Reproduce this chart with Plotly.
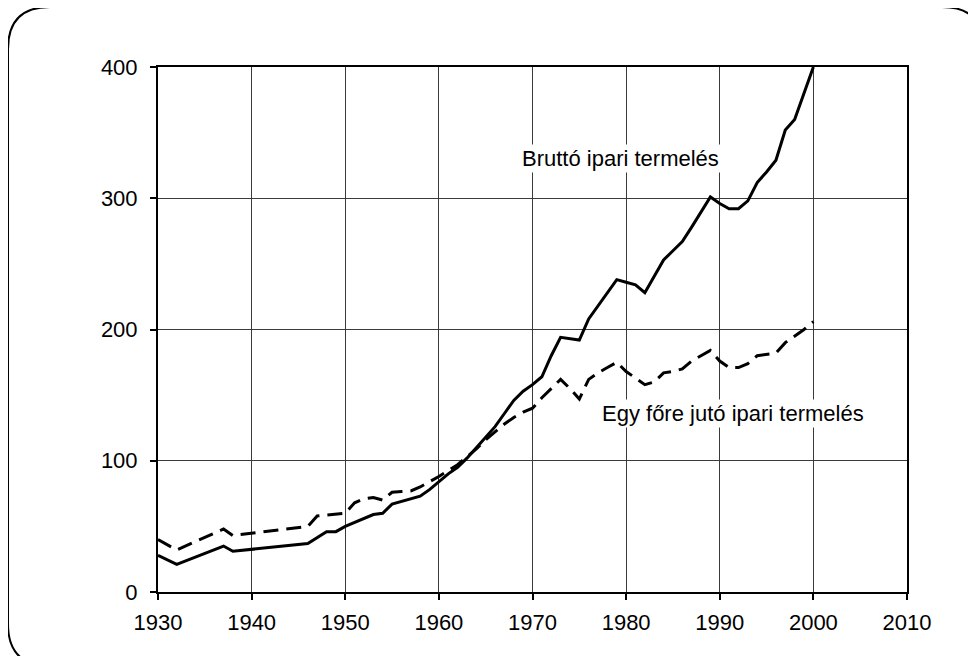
import plotly.graph_objects as go

# Bruttó ipari termelés (solid)
years_brutto = [1930, 1932, 1937, 1938, 1946, 1948, 1949, 1950, 1953, 1954, 1955, 1956,
                1957, 1958, 1959, 1960, 1961, 1962, 1963, 1964, 1965, 1966, 1967, 1968,
                1969, 1970, 1971, 1972, 1973, 1974, 1975, 1976, 1977, 1978, 1979, 1980,
                1981, 1982, 1983, 1984, 1985, 1986, 1987, 1988, 1989, 1990, 1991, 1992,
                1993, 1994, 1995, 1996, 1997, 1998, 1999, 2000]
brutto = [28, 21, 35, 31, 37, 46, 46, 50, 59, 60, 67, 69,
          71, 73, 78, 84, 90, 95, 102, 110, 118, 126, 136, 146,
          153, 158, 164, 180, 194, 193, 192, 208, 218, 228, 238, 236,
          234, 228, 241, 253, 260, 267, 278, 290, 301, 296, 292, 292,
          298, 312, 320, 329, 352, 360, 380, 400]

# Egy főre jutó ipari termelés (dashed)
years_fore = [1930, 1932, 1937, 1938, 1946, 1947, 1950, 1951, 1952, 1953, 1954, 1955,
              1956, 1957, 1958, 1960, 1962, 1963, 1964, 1965, 1966, 1967, 1968, 1969,
              1970, 1971, 1972, 1973, 1974, 1975, 1976, 1977, 1978, 1979, 1980, 1981,
              1982, 1983, 1984, 1985, 1986, 1987, 1988, 1989, 1990, 1991, 1992, 1993,
              1994, 1995, 1996, 1997, 1998, 1999, 2000]
fore = [40, 32, 48, 43, 50, 58, 60, 68, 71, 72, 70, 76,
        76.5, 77, 80, 88, 97, 103, 109, 116, 122, 128, 133, 137,
        140, 148, 155, 162, 155, 147, 162, 167, 171, 175, 168, 163,
        158, 160, 167, 168, 170, 176, 180, 184, 176, 171, 171, 174,
        180, 181, 182, 190, 195, 200, 206]

x_ticks = [1930, 1940, 1950, 1960, 1970, 1980, 1990, 2000, 2010]
y_ticks = [0, 100, 200, 300, 400]

label_brutto = "Bruttó ipari termelés"
label_fore = "Egy főre jutó ipari termelés"

FONT = "Liberation Sans, Arial, Helvetica, sans-serif"

fig = go.Figure()
fig.add_trace(go.Scatter(x=years_brutto, y=brutto, mode="lines",
                         line=dict(color="black", width=3), name=label_brutto))
fig.add_trace(go.Scatter(x=years_fore, y=fore, mode="lines",
                         line=dict(color="black", width=3, dash="15px,8px"), name=label_fore))

fig.add_annotation(x=1979.45, y=330, text=label_brutto, showarrow=False,
                   font=dict(size=22, color="black", family=FONT),
                   bgcolor="white", borderpad=1)
fig.add_annotation(x=1991.45, y=136, text=label_fore, showarrow=False,
                   font=dict(size=22, color="black", family=FONT),
                   bgcolor="white", borderpad=1)

# page offset of the figure (body margin)
OFF = 8
# plot area in page pixels
L, R_, T, B = 158, 907, 67, 592
W, H = R_ - L, B - T
# figure size chosen so the page does not overflow the 976x664 window
FW, FH = 976 - OFF, 664 - 2 * OFF


def px(x):
    return (x - L) / W


def py(y):
    return (B - y) / H


# frame in page pixels (right and bottom edges fall outside the visible area)
x0, x1, y0, y1, r = 8, 984, 7, 666, 42
path = (f"M {px(x0 + r)},{py(y0)} L {px(x1 - r)},{py(y0)} "
        f"Q {px(x1)},{py(y0)} {px(x1)},{py(y0 + r)} "
        f"L {px(x1)},{py(y1 - r)} Q {px(x1)},{py(y1)} {px(x1 - r)},{py(y1)} "
        f"L {px(x0 + r)},{py(y1)} Q {px(x0)},{py(y1)} {px(x0)},{py(y1 - r)} "
        f"L {px(x0)},{py(y0 + r)} Q {px(x0)},{py(y0)} {px(x0 + r)},{py(y0)} Z")
fig.add_shape(type="path", path=path, xref="paper", yref="paper",
              line=dict(color="black", width=2), layer="below")

fig.update_layout(
    width=FW, height=FH,
    margin=dict(l=L - OFF, r=FW - (R_ - OFF), t=T - OFF, b=FH - (B - OFF)),
    paper_bgcolor="white", plot_bgcolor="white",
    showlegend=False,
    font=dict(family=FONT, size=22, color="black"),
)
fig.update_xaxes(range=[1930, 2010], tickvals=x_ticks, ticktext=[str(v) for v in x_ticks],
                 showgrid=True, gridcolor="#3a3a3a", gridwidth=1,
                 showline=True, linecolor="black", linewidth=2, mirror=True,
                 ticks="outside", ticklen=6, tickwidth=2, tickcolor="black",
                 zeroline=False, tickfont=dict(size=22), ticklabelstandoff=4)
fig.update_yaxes(range=[0, 400], tickvals=y_ticks, ticktext=[str(v) for v in y_ticks],
                 showgrid=True, gridcolor="#3a3a3a", gridwidth=1,
                 showline=True, linecolor="black", linewidth=2, mirror=True,
                 ticks="outside", ticklen=6, tickwidth=2, tickcolor="black",
                 zeroline=False, tickfont=dict(size=22), ticklabelstandoff=8)

fig.write_html("out.html")
